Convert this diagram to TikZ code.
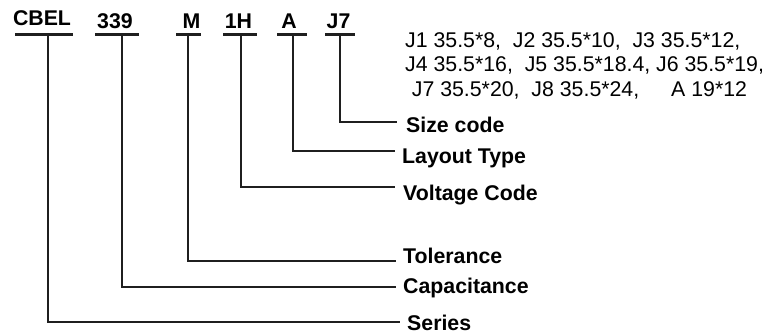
\documentclass[tikz,border=0pt]{standalone}
\usepackage{fontspec}
\setmainfont{Liberation Sans}
\begin{document}
\begin{tikzpicture}[x=1pt,y=-1pt,
  code/.style={anchor=base,inner sep=0pt,font=\fontsize{21.3}{24}\selectfont\bfseries},
  lab/.style={anchor=base west,inner sep=0pt,font=\fontsize{21.3}{24}\selectfont\bfseries},
  desc/.style={anchor=base west,inner sep=0pt,font=\fontsize{21.3}{24}\selectfont},
  ln/.style={line width=2.3pt,color=black!88}]
\useasboundingbox (0,0) rectangle (768,334);
% codes
\node[code] (cbel) at (42,26) {CBEL};
\node[code] (c339) at (115,29) {339};
\node[code] (cm) at (191.5,29) {M};
\node[code] (c1h) at (238.5,29) {1H};
\node[code] (ca) at (289,29) {A};
\node[code] (cj7) at (338.5,29) {J7};
% underline coordinates
\coordinate (cbelL) at (15,34.5);  \coordinate (cbelR) at (73,34.5);  \coordinate (cbelT) at (47.7,34.5);
\coordinate (c339L) at (95,34.5);  \coordinate (c339R) at (139,34.5); \coordinate (c339T) at (122,34.5);
\coordinate (cmL) at (176,34.5);   \coordinate (cmR) at (201,34.5);   \coordinate (cmT) at (188,34.5);
\coordinate (c1hL) at (223,34.5);  \coordinate (c1hR) at (257,34.5);  \coordinate (c1hT) at (241,34.5);
\coordinate (caL) at (277,34.5);   \coordinate (caR) at (307,34.5);   \coordinate (caT) at (293,34.5);
\coordinate (cj7L) at (325,34.5);  \coordinate (cj7R) at (355,34.5);  \coordinate (cj7T) at (340,34.5);
% line ends
\coordinate (cbelE) at (400,321.7);
\coordinate (c339E) at (396,287);
\coordinate (cmE) at (396,261);
\coordinate (c1hE) at (395,187);
\coordinate (caE) at (395,151);
\coordinate (cj7E) at (397,121.7);
% underlines and connectors
\foreach \n in {cbel,c339,cm,c1h,ca,cj7} {
  \draw[ln] (\n L) -- (\n R);
  \draw[ln] (\n T) |- (\n E);
}
% labels
\node[lab] (size) at (406,132.7) {Size code};
\node[lab] (layout) at (402,164) {Layout Type};
\node[lab] (volt) at (403,200) {Voltage Code};
\node[lab] (tol) at (403,263) {Tolerance};
\node[lab] (cap) at (403,293) {Capacitance};
\node[lab] (series) at (407,330) {Series};
% description
\node[desc] (d1) at (405,48) {J1 35.5*8,\ \ J2 35.5*10,\ \ J3 35.5*12,};
\node[desc] (d2) at (405,72) {J4 35.5*16,\ \ J5 35.5*18.4, J6 35.5*19,};
\node[desc] (d3) at (411.7,96.5) {J7 35.5*20,\ \ J8 35.5*24,\hspace{32pt}A 19*12};
\end{tikzpicture}
\end{document}
